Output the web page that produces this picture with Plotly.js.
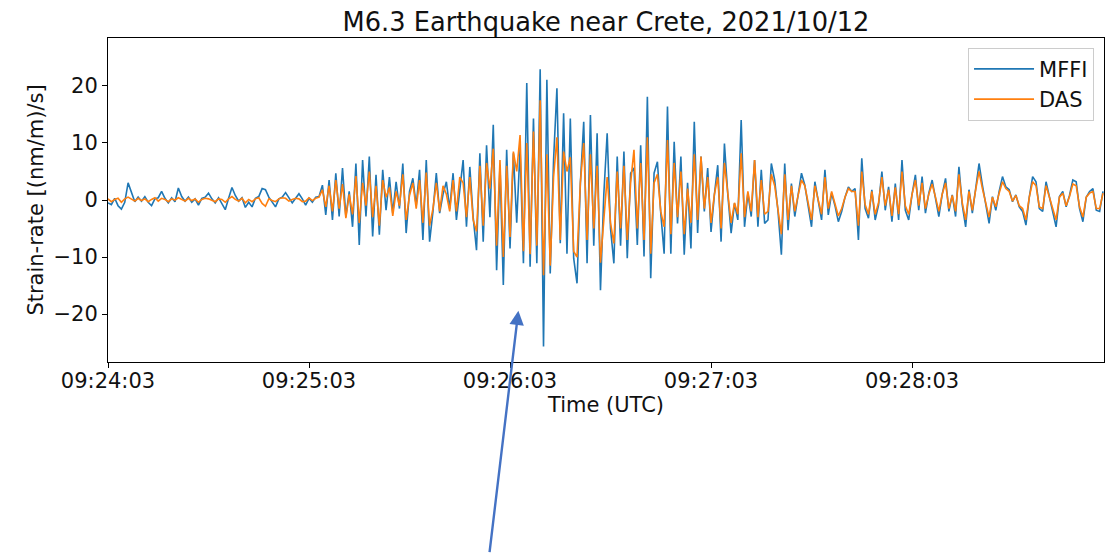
<!DOCTYPE html>
<html>
<head>
<meta charset="utf-8">
<script src="https://cdn.plot.ly/plotly-3.0.1.min.js"></script>
<style>
  html, body { margin: 0; padding: 0; background: #fff; }
  #chart { width: 1117px; height: 554px; }
</style>
</head>
<body>
<div id="chart"></div>
<script>
// Strain-rate records of the M6.3 Crete earthquake, one sample per second
// starting at 09:24:03 UTC.
const SAMPLE_INTERVAL_S = 1;

// Broadband seismometer (MFFI), nm/m/s
const mffi = [
  -0.5, -0.8, 0.3, -1.0, -1.6, -0.4, 3.0, 1.2, -0.3, 0.5,
  -0.2, 0.6, -0.4, -1.0, 0.2, 0.4, 1.5, 0.3, -0.5, 0.4,
  -0.3, 2.1, 0.6, -0.2, 0.5, -0.4, 0.2, -0.9, 0.3, 0.5,
  1.2, 0.2, -0.5, 0.4, -0.6, -1.7, 0.3, 2.2, 0.8, -0.2,
  0.4, -1.3, -0.4, -1.2, 0.3, 0.6, 2.0, 1.8, 0.5, -0.3,
  -1.2, 0.2, 0.5, 1.3, 0.4, -0.5, 0.3, 1.1, 0.2, -0.9,
  0.3, -0.4, 0.5, 0.6, 2.6, -2.6, 3.5, -3.5, 4.7, -2.9,
  5.6, -2.9, 1.5, -4.7, 6.4, -7.9, 7.0, -2.9, 7.6, -6.4,
  4.4, -6.1, 5.3, -1.8, 4.0, -2.3, 3.2, -1.5, 6.4, -5.8,
  1.5, 3.8, -1.0, 5.3, -7.0, 7.0, -7.3, -2.0, 4.7, -2.3,
  1.0, 3.2, -1.5, 4.7, -3.5, 2.0, 7.0, -4.7, 5.8, -3.0,
  -8.8, 8.2, -7.3, 9.6, -3.0, 13.2, -12.3, 6.1, -14.9, 8.8,
  -8.5, 8.2, -4.0, 9.0, -11.1, 20.5, -11.7, 14.3, -11.1, 22.9,
  -25.7, 21.1, -12.9, 7.0, 19.6, -7.6, 15.2, -9.4, 14.3, -10.2,
  -14.6, 2.9, 13.7, -11.1, 14.9, -8.0, 11.7, -15.8, 1.0, 11.7,
  -5.0, -11.1, 7.6, -8.0, 8.5, -10.2, 4.7, 5.6, -7.9, 9.6,
  -9.9, 18.1, -13.7, 4.7, 6.7, -2.3, -9.4, 16.4, -9.4, 10.2,
  -4.1, 7.6, -9.6, 3.0, -8.5, 13.7, -5.8, 7.6, -2.0, 5.6,
  -5.6, 0.9, 6.1, -7.3, 9.9, 1.0, -5.8, -0.6, -3.5, 14.0,
  -4.7, 1.2, -2.9, 7.0, -4.7, 5.3, -4.1, -3.5, 6.4, 3.5,
  -2.0, -9.6, 6.4, -5.3, 2.9, -2.9, 0.9, 4.7, 2.6, -1.0,
  -4.7, 3.2, -0.5, -3.5, 5.3, -2.6, 1.2, -1.0, -3.8, -2.0,
  0.5, 2.3, 1.5, 2.0, -7.0, 7.3, -1.5, -3.2, 1.8, -3.5,
  -0.9, 5.0, -1.8, 2.3, -3.8, 2.9, -3.5, 7.0, -1.8, -3.5,
  1.0, 4.4, -1.8, 4.1, -2.3, 1.2, 3.5, 0.5, -2.9, 1.0,
  3.8, -2.0, 0.9, -2.9, 5.8, -0.9, -4.7, 1.8, -2.3, 2.0,
  6.4, 2.6, -0.6, -4.1, 0.6, -1.8, 1.5, 4.1, 2.3, 1.8,
  -0.3, 0.9, -1.2, -2.0, -4.4, 0.5, 4.1, 3.2, -1.5, -2.0,
  3.2, 0.5, -2.0, -4.7, 0.6, 1.5, -1.2, 0.8, 3.5, 3.2,
  -1.5, -3.8, 0.5, 1.5, 2.0, -1.8, -2.0, 1.5
];

// Distributed acoustic sensing channel (DAS), nm/m/s
const das = [
  0.2, -0.3, 0.1, 0.3, -0.4, 0.2, 0.5, 0.1, -0.2, 0.3,
  -0.1, 0.2, -0.3, 0.1, 0.4, -0.2, 0.3, 0.1, -0.3, 0.2,
  0.0, 0.4, 0.1, -0.2, 0.3, -0.1, 0.2, -0.4, 0.1, 0.3,
  0.2, -0.1, -0.3, 0.2, 0.1, -0.4, 0.2, 0.6, 0.1, -0.2,
  0.3, -0.5, 0.1, -0.3, 0.2, 0.4, -0.6, -1.1, 0.2, -0.1,
  -0.3, 0.2, 0.4, 0.3, -0.2, 0.1, 0.3, 0.2, -0.3, -0.2,
  0.4, -0.1, 0.3, 0.5, 1.8, -1.2, 2.5, -2.0, 3.5, -1.5,
  2.8, -3.2, 1.0, -2.5, 4.2, -4.0, 3.0, -1.0, 5.0, -3.0,
  2.5, -4.5, 3.5, 0.5, 2.2, -2.8, 1.5, -1.0, 4.5, -3.5,
  0.8, 3.0, -1.5, 3.5, -4.0, 4.8, -4.5, -1.5, 3.0, -2.0,
  2.5, 1.0, -2.0, 3.5, -2.0, 4.0, 3.0, -3.0, 4.0, -3.5,
  -5.5, 6.0, -4.5, 6.5, 2.0, 9.0, -8.0, 7.0, -10.0, 6.0,
  -6.5, 8.5, 5.0, 11.4, -9.0, 10.0, -9.5, 12.0, -8.0, 17.5,
  -13.2, 8.0, -11.5, 4.0, 11.0, -7.0, 8.5, 5.0, 7.5, -9.0,
  -10.0, 3.0, 10.0, -7.0, 8.0, -5.0, 6.0, -11.0, -3.0, 4.0,
  -4.0, -7.6, 5.0, -5.0, 6.0, -7.0, 3.0, 8.8, -5.0, 6.5,
  -7.0, 11.0, -9.4, 3.0, 4.5, -2.0, -4.7, 10.5, -6.0, 6.5,
  -3.0, 5.0, -6.0, 2.0, -4.0, 8.0, -3.5, 7.6, -1.5, 4.0,
  -4.0, 1.0, 4.0, -5.0, 6.5, 1.0, -4.0, -0.5, -2.5, 8.2,
  -3.0, 1.5, -2.0, 7.0, -3.0, 3.5, -2.5, -2.0, 4.5, 2.5,
  -1.5, -6.0, 4.5, -3.5, 2.5, -2.0, 0.8, 3.5, 2.5, -0.5,
  -3.5, 2.5, 0.0, -2.5, 4.0, -1.5, 1.5, -0.5, -2.8, -1.5,
  0.5, 2.0, 1.5, 1.5, -4.5, 5.0, -0.8, -2.5, 1.5, -2.5,
  -0.5, 4.0, -1.0, 1.8, -2.8, 2.2, -2.5, 5.0, -1.0, -2.5,
  1.0, 3.5, -1.0, 3.0, -1.5, 1.0, 2.8, 0.5, -2.0, 1.0,
  3.0, -1.5, 0.8, -2.0, 4.5, -0.5, -3.5, 1.5, -1.8, 1.8,
  5.0, 2.0, -0.5, -3.0, 0.5, -1.2, 1.2, 3.2, 2.0, 1.5,
  -0.2, 0.8, -1.0, -1.5, -3.5, 0.5, 3.2, 2.5, -1.2, -1.5,
  2.5, 0.5, -1.5, -3.5, 0.5, 1.2, -1.0, 0.6, 2.8, 2.5,
  -1.2, -3.0, 0.5, 1.2, 1.5, -1.5, -1.5, 1.2
];

// Time-axis ticks (seconds after 09:24:03 UTC) and their clock labels
const tickSeconds = [0, 60, 120, 180, 240];
const tickLabels = ['09:24:03', '09:25:03', '09:26:03', '09:27:03', '09:28:03'];

// Where the call-out arrow points (seconds, strain-rate)
const ARROW_TIP = { t: 122.5, v: -19.4 };

const seconds = mffi.map((_, i) => i * SAMPLE_INTERVAL_S);

const traces = [
  { x: seconds, y: mffi, name: 'MFFI', type: 'scatter', mode: 'lines',
    line: { color: '#1f77b4', width: 1.6 } },
  { x: seconds, y: das, name: 'DAS', type: 'scatter', mode: 'lines',
    line: { color: '#ff7f0e', width: 1.6 } }
];

const TEXT = '#111';
const axisStyle = {
  showline: true, mirror: true, linecolor: '#000', linewidth: 1,
  ticks: 'outside', ticklen: 5, tickwidth: 1, tickcolor: '#000',
  showgrid: false, zeroline: false,
  tickfont: { size: 21, color: TEXT }
};

const layout = {
  width: 1117, height: 554,
  margin: { l: 108, r: 13, t: 38, b: 192, pad: 0 },
  paper_bgcolor: '#fff', plot_bgcolor: '#fff',
  font: { family: 'DejaVu Sans', size: 21, color: TEXT },
  title: {
    text: 'M6.3 Earthquake near Crete, 2021/10/12',
    font: { size: 25.7, color: TEXT },
    x: 0.5, xref: 'paper', xanchor: 'center',
    y: 1 - 22 / 554, yref: 'container', yanchor: 'middle'
  },
  xaxis: Object.assign({}, axisStyle, {
    range: [0, 297.3],
    tickmode: 'array', tickvals: tickSeconds, ticktext: tickLabels,
    ticklabelstandoff: -5,
    title: { text: 'Time (UTC)', font: { size: 21, color: TEXT }, standoff: 2 }
  }),
  yaxis: Object.assign({}, axisStyle, {
    range: [-28.4, 28.4], tick0: 0, dtick: 10,
    title: { text: 'Strain-rate [(nm/m)/s]', font: { size: 21, color: TEXT }, standoff: 4 }
  }),
  showlegend: true,
  legend: {
    x: 0.99, xanchor: 'right', y: 0.97, yanchor: 'top',
    bgcolor: 'rgba(255,255,255,0.8)', bordercolor: '#cccccc', borderwidth: 1,
    itemwidth: 60,
    font: { size: 21, color: TEXT }
  },
  annotations: [{
    x: ARROW_TIP.t, y: ARROW_TIP.v, xref: 'x', yref: 'y',
    ax: -29, ay: 243, axref: 'pixel', ayref: 'pixel',
    text: '', showarrow: true, arrowhead: 2, arrowsize: 1.2,
    arrowwidth: 2.4, arrowcolor: '#4472C4', standoff: 0
  }]
};

Plotly.newPlot('chart', traces, layout, { displayModeBar: false, staticPlot: true });
</script>
</body>
</html>
